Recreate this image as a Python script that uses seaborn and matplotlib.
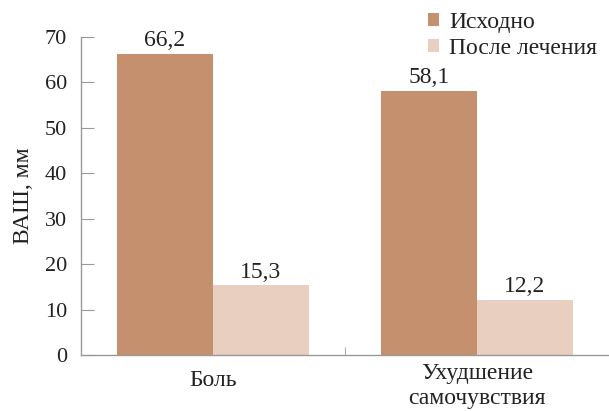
import pandas as pd
import matplotlib.pyplot as plt
import matplotlib.transforms as mtransforms
import seaborn as sns

# ── data ─────────────────────────────────────────────────────────────
categories = ["Боль", "Ухудшение\nсамочувствия"]
series = ["Исходно", "После лечения"]
baseline = [66.2, 58.1]
after = [15.3, 12.2]
colors = ["#C4906E", "#E9CFBF"]

df = pd.DataFrame({
    "cat": categories * 2,
    "group": [series[0]] * 2 + [series[1]] * 2,
    "value": baseline + after,
})

# ── style ────────────────────────────────────────────────────────────
sns.set_style("white")
plt.rcParams["font.family"] = ["Liberation Serif", "DejaVu Serif"]
FS = 17
TICK_FS = 16

fig = plt.figure(figsize=(6.09, 4.11), dpi=100)
ax = fig.add_axes([81 / 609, 56 / 411, 528 / 609, 318 / 411])

sns.barplot(data=df, x="cat", y="value", hue="group", palette=colors,
            width=0.727, gap=0, saturation=1, linewidth=0, ax=ax, legend=True)

for cont in ax.containers:
    ax.bar_label(cont, labels=[f"{v:.1f}".replace(".", ",") for v in cont.datavalues],
                 padding=2, fontsize=FS, color="#222222")

ax.set_ylim(0, 70)
ax.set_xlim(-0.5, 1.5)
ax.set_yticks(range(0, 71, 10))
ax.set_xlabel("")
ax.set_ylabel("ВАШ, мм", fontsize=FS, color="#222222", labelpad=8)

for s in ["top", "right"]:
    ax.spines[s].set_visible(False)
for s in ["left", "bottom"]:
    ax.spines[s].set_color("#999999")
    ax.spines[s].set_linewidth(1.0)

ax.tick_params(axis="y", direction="in", length=9, color="#999999",
               labelsize=TICK_FS, labelcolor="#222222", pad=10, left=True)
ax.tick_params(axis="x", which="major", length=0, labelsize=FS,
               labelcolor="#222222", pad=6)
ax.set_xticks([0.5], minor=True)
ax.tick_params(axis="x", which="minor", direction="in", length=6,
               color="#999999", bottom=True)

# single-line label sits a bit lower than the two-line one
first = ax.get_xticklabels()[0]
first.set_transform(first.get_transform() +
                    mtransforms.ScaledTranslation(0, -7 / 100, fig.dpi_scale_trans))

handles, labels = ax.get_legend_handles_labels()
ax.get_legend().remove()
fig.legend(handles, labels, loc="upper left", bbox_to_anchor=(428 / 609, 1 - 12 / 411),
           frameon=False, fontsize=FS, handlelength=0.47, handleheight=0.47,
           handletextpad=0.42, labelspacing=0.2, borderpad=0, borderaxespad=0,
           labelcolor="#222222")

plt.savefig("out.png", dpi=100)
